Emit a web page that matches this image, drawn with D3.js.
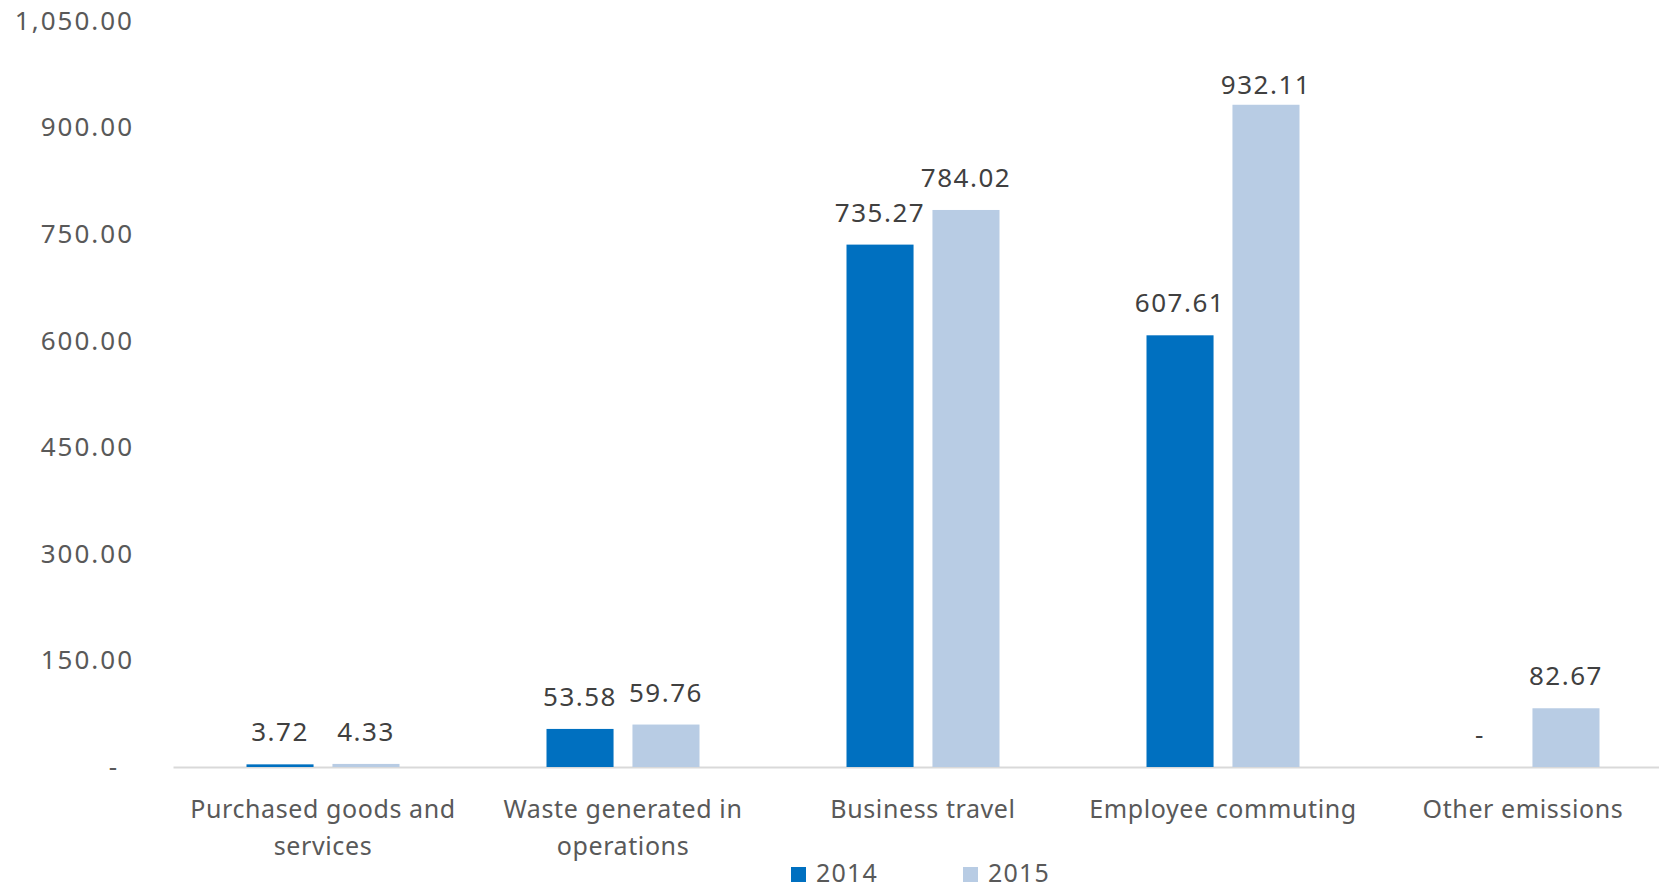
<!DOCTYPE html>
<meta charset="utf-8" />
<html>
<head>
<title>scope 3 emissions</title>
<script src="https://cdn.jsdelivr.net/npm/d3@7"></script>
<style>
  body { margin: 0; background: #fff; }
  text { font-family: "Noto Sans", "Open Sans", sans-serif; }
</style>
</head>
<body>
<div id="viz"></div>
<script>

// data
var categories = ["Purchased goods and\nservices", "Waste generated in\noperations",
                  "Business travel", "Employee commuting", "Other emissions"];
var years = ["2014", "2015"];
var values2014 = [3.72, 53.58, 735.27, 607.61, 0];
var values2015 = [4.33, 59.76, 784.02, 932.11, 82.67];
var yTicks = [0, 150, 300, 450, 600, 750, 900, 1050];

var colors = {"2014": "#0070c0", "2015": "#b8cce4"};

var width = 1659, height = 890;
var svg = d3.select("#viz").append("svg")
    .attr("width", width)
    .attr("height", height);

var x = d3.scaleBand().domain(categories).range([173, 1673]).paddingInner(0).paddingOuter(0);
var xs = d3.scaleBand().domain(years).range([73.5, 226.5]).paddingInner(0.22).paddingOuter(0);
var y = d3.scaleLinear().domain([0, 1050]).range([767, 21]);

var fmt = d3.format(",.2f");
function label(v) { return v === 0 ? "-" : fmt(v); }

// y axis
var yAxis = svg.append("g")
    .attr("transform", "translate(137,0)")
    .call(d3.axisLeft(y).tickValues(yTicks).tickSize(0).tickPadding(3).tickFormat(label));
yAxis.select(".domain").remove();
yAxis.selectAll("text")
    .style("font-size", "26px")
    .style("letter-spacing", "2px")
    .attr("fill", "#595959")
    .attr("dx", function(d) { return d === 0 ? -15 : 0; });

// x axis
var xAxis = svg.append("g")
    .attr("transform", "translate(0," + y(0) + ")")
    .call(d3.axisBottom(x).tickSize(0).tickFormat(""));
xAxis.select(".domain").attr("stroke", "#d9d9d9").attr("stroke-width", 2);
xAxis.selectAll(".tick text").remove();

var catLabels = svg.append("g");
categories.forEach(function(c) {
  var t = catLabels.append("text")
      .attr("text-anchor", "middle")
      .attr("fill", "#595959")
      .style("font-size", "25px")
      .style("letter-spacing", "0.6px");
  c.split("\n").forEach(function(line, i) {
    t.append("tspan")
      .attr("x", x(c) + x.bandwidth() / 2)
      .attr("y", 818 + i * 37)
      .text(line);
  });
});

// bars
var rows = categories.map(function(c, i) {
  return [{cat: c, year: "2014", v: values2014[i]}, {cat: c, year: "2015", v: values2015[i]}];
});
var flat = d3.merge(rows);

var g = svg.append("g");
g.selectAll("rect")
  .data(flat)
  .enter().append("rect")
  .attr("x", function(d) { return x(d.cat) + xs(d.year); })
  .attr("y", function(d) { return y(d.v); })
  .attr("width", xs.bandwidth())
  .attr("height", function(d) { return y(0) - y(d.v); })
  .attr("fill", function(d) { return colors[d.year]; });

// value labels (the top one gets squeezed by the plot edge, as in excel)
g.selectAll("text.val")
  .data(flat)
  .enter().append("text")
  .attr("class", "val")
  .attr("text-anchor", "middle")
  .attr("x", function(d) { return x(d.cat) + xs(d.year) + xs.bandwidth() / 2; })
  .attr("y", function(d) { return Math.max(y(d.v) - 32, 85); })
  .attr("dy", "0.35em")
  .attr("fill", "#404040")
  .style("font-size", "26px")
  .style("letter-spacing", "1.5px")
  .text(function(d) { return label(d.v); });

// legend
var legendX = [791, 963];
var legend = svg.append("g");
years.forEach(function(yr, i) {
  legend.append("rect")
    .attr("x", legendX[i]).attr("y", 867)
    .attr("width", 15).attr("height", 15)
    .attr("fill", colors[yr]);
  legend.append("text")
    .attr("x", legendX[i] + 25).attr("y", 873)
    .attr("dy", "0.35em")
    .attr("fill", "#595959")
    .style("font-size", "25px")
    .style("letter-spacing", "1.2px")
    .text(yr);
});

</script>
</body>
</html>
